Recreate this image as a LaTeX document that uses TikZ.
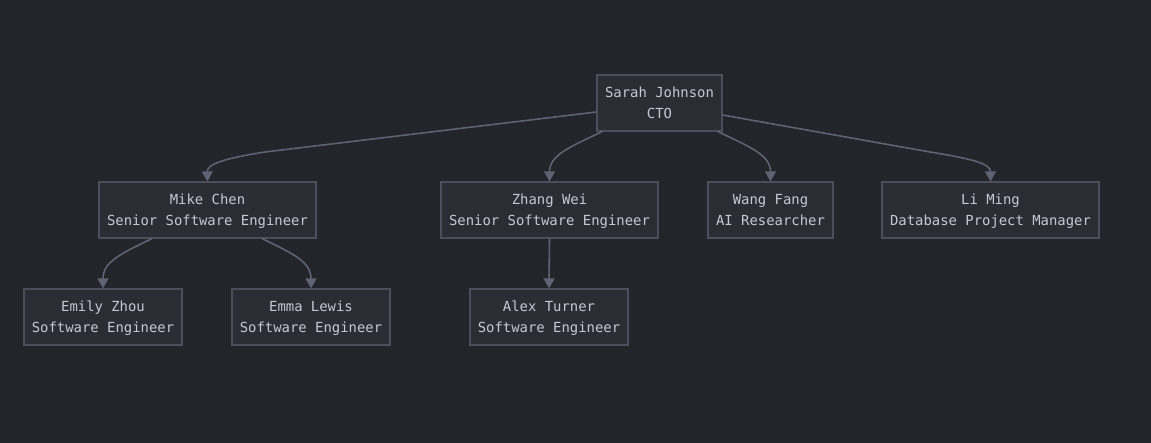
\documentclass[tikz,border=0pt]{standalone}
\usepackage{fontspec}
\setmonofont{DejaVu Sans Mono}
\usetikzlibrary{arrows.meta}
\definecolor{bgc}{HTML}{23252B}
\definecolor{nodefill}{HTML}{2B2D35}
\definecolor{nodeline}{HTML}{4B4F5C}
\definecolor{edgec}{HTML}{5E6373}
\definecolor{textc}{HTML}{C4C8D0}
\tikzset{
  person/.style={draw=nodeline, fill=nodefill, line width=1.2pt, text=textc,
    font=\ttfamily\fontsize{13.9}{21}\selectfont, align=center,
    minimum height=56pt, inner sep=0pt, text depth=-3pt},
  link/.style={draw=edgec, line width=1.6pt, -{Triangle[length=10pt,width=11pt]}}
}
\begin{document}
\begin{tikzpicture}[x=1pt,y=-1pt]
\fill[bgc] (0,0) rectangle (1151,443);
\useasboundingbox (0,0) rectangle (1151,443);
\node[person, minimum width=125pt] (sarah) at (659.5,103) {Sarah Johnson\\CTO};
\node[person, minimum width=217pt] (mike) at (207.5,210) {Mike Chen\\Senior Software Engineer};
\node[person, minimum width=217pt] (zhang) at (549.5,210) {Zhang Wei\\Senior Software Engineer};
\node[person, minimum width=125pt] (wang) at (770.5,210) {Wang Fang\\AI Researcher};
\node[person, minimum width=217pt] (li) at (990.5,210) {Li Ming\\Database Project Manager};
\node[person, minimum width=158pt] (emily) at (103,317) {Emily Zhou\\Software Engineer};
\node[person, minimum width=158pt] (emma) at (311,317) {Emma Lewis\\Software Engineer};
\node[person, minimum width=158pt] (alex) at (549,317) {Alex Turner\\Software Engineer};
\draw[link] ([yshift=-9pt]sarah.west) -- (265,152) .. controls (220,159) and (207,165) .. (mike.north);
\draw[link] ([xshift=-57.5pt]sarah.south) .. controls (570,147) and (549.5,155) .. (zhang.north);
\draw[link] ([xshift=58.5pt]sarah.south) .. controls (750,147) and (770.5,155) .. (wang.north);
\draw[link] ([yshift=-12pt]sarah.east) -- (930,152) .. controls (980,160) and (990.5,165) .. (li.north);
\draw[link] ([xshift=-55.5pt]mike.south) .. controls (120,254) and (103,262) .. (emily.north);
\draw[link] ([xshift=54.5pt]mike.south) .. controls (294,254) and (311,262) .. (emma.north);
\draw[link] (zhang.south) -- (alex.north);
\end{tikzpicture}
\end{document}
